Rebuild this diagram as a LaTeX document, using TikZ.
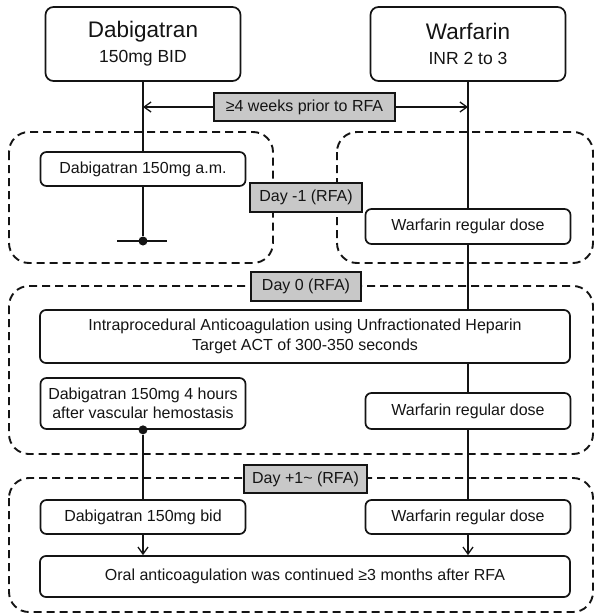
\documentclass[tikz,border=0pt]{standalone}
\usepackage{fontspec}
\setmainfont{Liberation Sans}
\usetikzlibrary{arrows.meta}
\definecolor{labelgray}{RGB}{200,200,200}
\definecolor{ink}{RGB}{20,20,20}

\begin{document}
\begin{tikzpicture}[x=1pt, y=-1pt, >={Straight Barb[length=7pt,width=10pt]},
    drug/.style ={draw=ink, text=ink, rounded corners=8pt, line width=1.7pt, align=center, inner sep=0pt,
                  minimum width=195pt, minimum height=74pt, font=\fontsize{22.5}{26}\selectfont},
    dose/.style ={draw=ink, text=ink, rounded corners=6pt, line width=1.7pt, align=center, inner sep=0pt,
                  minimum width=205pt, font=\fontsize{16}{19.5}\selectfont},
    daylabel/.style ={draw=ink, text=ink, fill=labelgray, line width=1.5pt, inner sep=0pt,
                  minimum height=29pt, font=\fontsize{16}{19}\selectfont},
    phase/.style ={draw=ink, dash pattern=on 8pt off 5pt, line width=1.9pt, rounded corners=20pt},
    flow/.style ={draw=ink, line width=1.3pt},
    dot/.style ={circle, fill=ink, inner sep=0pt, minimum size=9pt}]
   \useasboundingbox (0,0) rectangle (596,613);
   % phases
   \draw[phase] (9,132) rectangle (273,263);
   \draw[phase] (337,132) rectangle (593,263);
   \draw[phase] (9,286) rectangle (593,454);
   \draw[phase] (9,478) rectangle (593,612);
   % drugs
   \node[drug] (dab) at (143,44) {Dabigatran\\[-1pt]{\fontsize{17.5}{20}\selectfont 150mg BID}};
   \node[drug] (war) at (468,44) {Warfarin\\[-1pt]{\fontsize{17.5}{20}\selectfont INR 2 to 3}};
   \node[daylabel, minimum width=181pt, minimum height=28pt] (weeks) at (304.5,107) {≥4 weeks prior to RFA};
   % day -1
   \node[dose, minimum height=34pt] (dabam) at (143,169) {Dabigatran 150mg a.m.};
   \node[daylabel, minimum width=112pt] (dayprev) at (306,197.5) {Day -1 (RFA)};
   \node[dose, minimum height=35pt] (warone) at (468,226.5) {Warfarin regular dose};
   \node[dot] (stopdot) at (143,241) {};
   % day 0
   \node[daylabel, minimum width=110pt] (dayzero) at (306,286.5) {Day 0 (RFA)};
   \node[dose, minimum width=530pt, minimum height=53pt] (intra) at (305,336.5)
        {Intraprocedural Anticoagulation using Unfractionated Heparin\\Target ACT of 300-350 seconds};
   \node[dose, minimum height=51pt] (dabpost) at (143,403.5) {Dabigatran 150mg 4 hours\\after vascular hemostasis};
   \node[dose, minimum height=36pt] (wartwo) at (468,411) {Warfarin regular dose};
   \node[dot] (postdot) at (dabpost.south) {};
   % day +1
   \node[daylabel, minimum width=123pt, minimum height=28pt] (daynext) at (305.5,479) {Day +1\textasciitilde{} (RFA)};
   \node[dose, minimum height=34pt] (dabbid) at (143,517) {Dabigatran 150mg bid};
   \node[dose, minimum height=34pt] (warthree) at (468,517) {Warfarin regular dose};
   \node[dose, minimum width=530pt, minimum height=41pt] (oral) at (305,576.5)
        {Oral anticoagulation was continued ≥3 months after RFA};
   % connectors
   \draw[flow, ->] (weeks) to (weeks -| dab);
   \draw[flow, ->] (weeks) to (weeks -| war);
   \draw[flow] (dab) to (dabam);
   \draw[flow] (dabam) to (stopdot);
   \draw[flow] ([xshift=-26pt]stopdot.center) to ([xshift=24pt]stopdot.center);
   \draw[flow] (postdot) to (dabbid);
   \draw[flow, ->] (dabbid) to (dabbid |- oral.north);
   \draw[flow] (war) to (warone);
   \draw[flow] (warone) to (warone |- intra.north);
   \draw[flow] (intra.south -| wartwo) to (wartwo);
   \draw[flow] (wartwo) to (warthree);
   \draw[flow, ->] (warthree) to (warthree |- oral.north);
\end{tikzpicture}
\end{document}
